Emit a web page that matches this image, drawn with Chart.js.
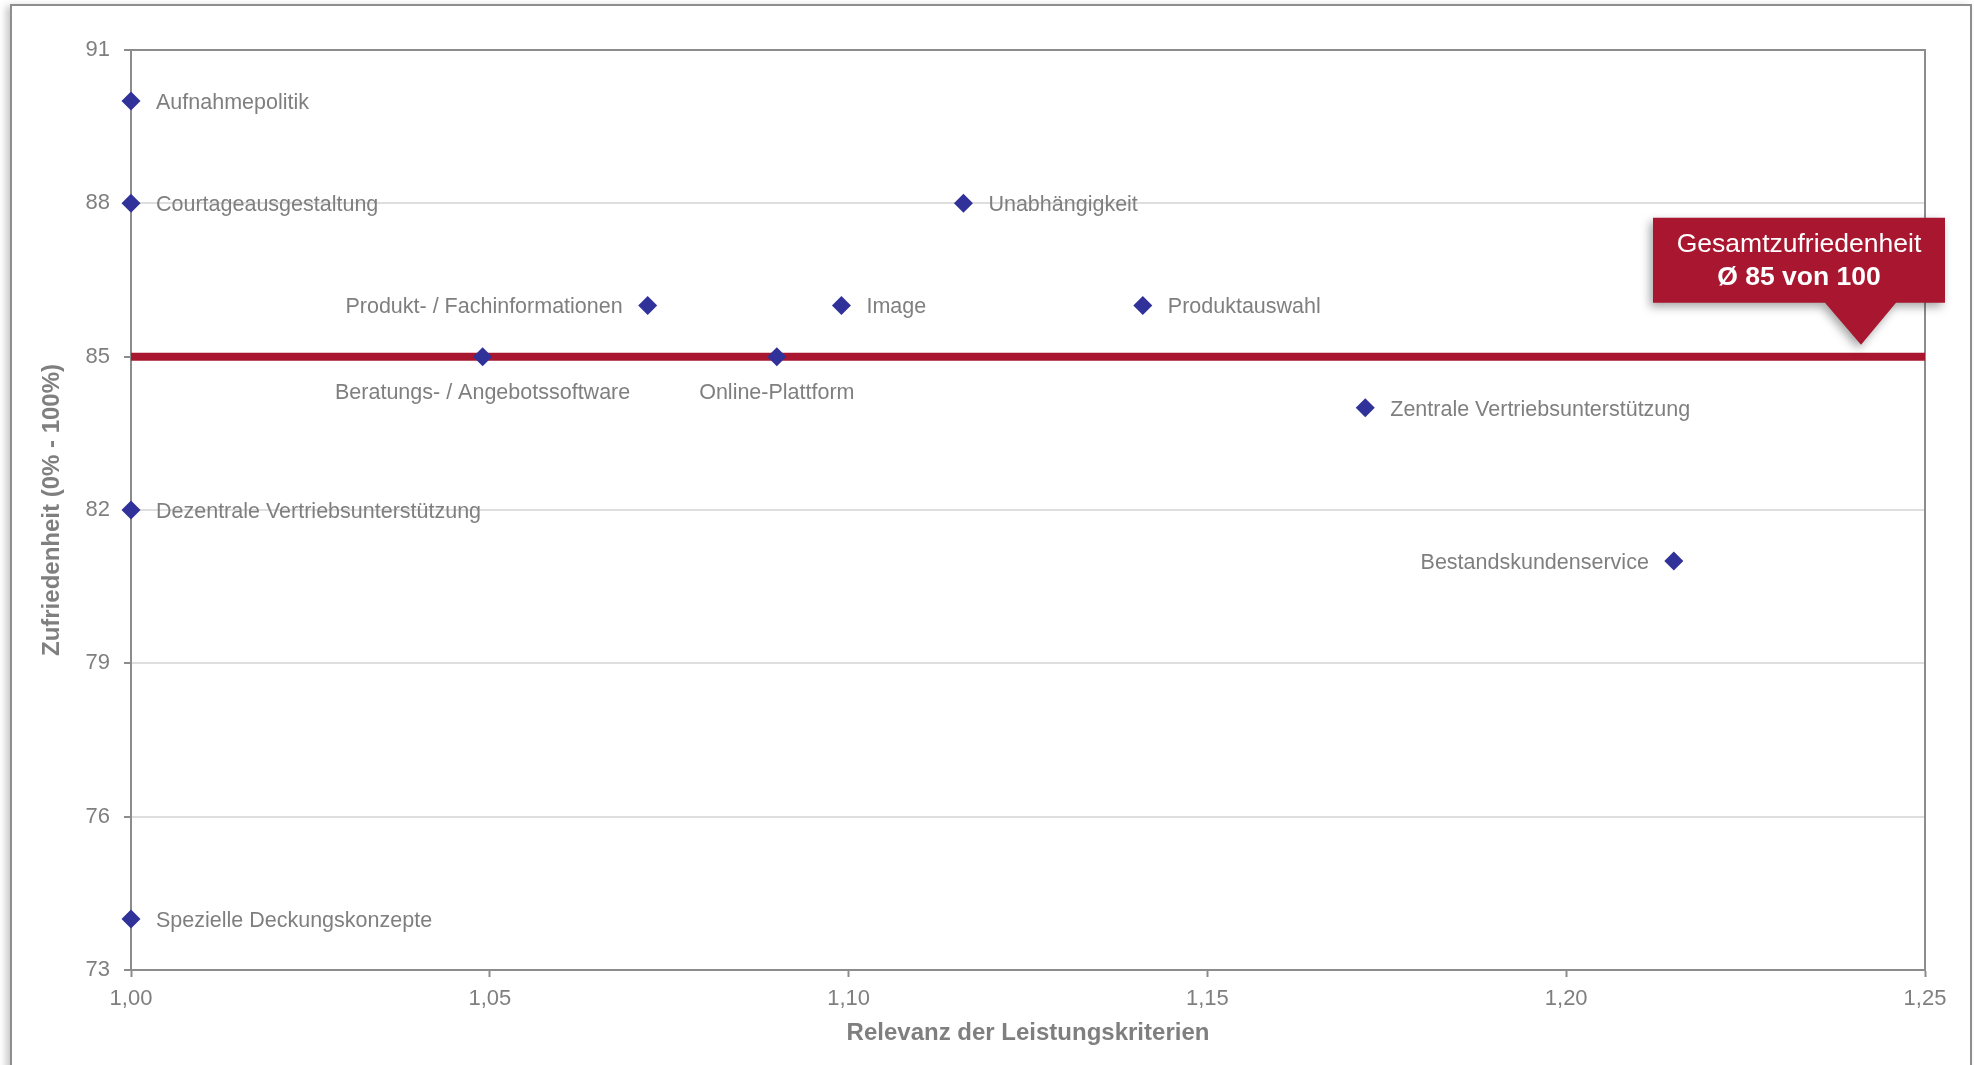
<!DOCTYPE html>
<html>
<head>
<meta charset="utf-8">
<title>Zufriedenheit vs. Relevanz</title>
<script src="https://cdn.jsdelivr.net/npm/chart.js@4.4.1/dist/chart.umd.min.js"></script>
<style>
	html, body { margin: 0; padding: 0; background: #fff; overflow: hidden; }
	#frame {
		position: absolute; left: 10px; top: 4px; width: 1958px; height: 1100px;
		border: 2px solid #8e8e8e; background: #fff;
		box-shadow: -4px 2px 7px rgba(0, 0, 0, 0.22);
	}
	#wrap { position: absolute; left: 0; top: 0; width: 1974px; height: 1065px; }
</style>
</head>
<body>
<div id="frame"></div>
<div id="wrap"><canvas id="chart" width="1974" height="1065"></canvas></div>
<script>
// Leistungskriterien
const criteria = [
	'Aufnahmepolitik',
	'Courtageausgestaltung',
	'Unabhängigkeit',
	'Produkt- / Fachinformationen',
	'Image',
	'Produktauswahl',
	'Beratungs- / Angebotssoftware',
	'Online-Plattform',
	'Zentrale Vertriebsunterstützung',
	'Dezentrale Vertriebsunterstützung',
	'Bestandskundenservice',
	'Spezielle Deckungskonzepte',
]
const relevance = [1.000, 1.000, 1.116, 1.072, 1.099, 1.141, 1.049, 1.090, 1.172, 1.000, 1.215, 1.000]
const satisfaction = [90, 88, 88, 86, 86, 86, 85, 85, 84, 82, 81, 74]
const averageScore = 85

const xTicks = [1.00, 1.05, 1.10, 1.15, 1.20, 1.25]
const yTicks = [73, 76, 79, 82, 85, 88, 91]
const xTitle = 'Relevanz der Leistungskriterien'
const yTitle = 'Zufriedenheit (0% - 100%)'
const calloutTitle = 'Gesamtzufriedenheit'

// where each label sits relative to its point
const labelSide = ['right', 'right', 'right', 'left', 'right', 'right', 'below', 'below', 'right', 'right', 'left', 'right']

const FONT = '"Liberation Sans", Arial, sans-serif'
const GRAY = '#7f7f7f'
const AXIS = '#8c8c8c'
const RED = '#a8172f'
const NAVY = '#30329a'

const plotFrame = {
	id: 'plotFrame',
	beforeDatasetsDraw(chart) {
		const {ctx, chartArea: a} = chart
		ctx.save()
		ctx.strokeStyle = AXIS
		ctx.lineWidth = 2
		ctx.beginPath()
		ctx.moveTo(a.left, a.top)
		ctx.lineTo(a.right, a.top)
		ctx.lineTo(a.right, a.bottom)
		ctx.stroke()
		ctx.restore()
	},
}

const pointLabels = {
	id: 'pointLabels',
	afterDatasetsDraw(chart) {
		const {ctx} = chart
		const meta = chart.getDatasetMeta(0)
		ctx.save()
		ctx.font = '21.5px ' + FONT
		ctx.fillStyle = GRAY
		ctx.textBaseline = 'middle'
		meta.data.forEach((pt, i) => {
			const side = labelSide[i]
			if (side === 'left') {
				ctx.textAlign = 'right'
				ctx.fillText(criteria[i], pt.x - 25, pt.y + 2)
			} else if (side === 'below') {
				ctx.textAlign = 'center'
				ctx.fillText(criteria[i], pt.x, pt.y + 36)
			} else {
				ctx.textAlign = 'left'
				ctx.fillText(criteria[i], pt.x + 25, pt.y + 2)
			}
		})
		ctx.restore()
	},
}

const callout = {
	id: 'callout',
	afterDraw(chart) {
		const {ctx, chartArea, scales} = chart
		const tipX = chartArea.right - 64
		const tipY = scales.y.getPixelForValue(averageScore) - 12
		const boxW = 292, boxH = 85
		const boxL = chartArea.right + 20 - boxW
		const boxT = tipY - 42 - boxH
		const boxB = boxT + boxH

		ctx.save()
		ctx.shadowColor = 'rgba(0, 0, 0, 0.35)'
		ctx.shadowBlur = 10
		ctx.shadowOffsetX = -3
		ctx.shadowOffsetY = 4
		ctx.fillStyle = RED
		ctx.beginPath()
		ctx.moveTo(boxL, boxT)
		ctx.lineTo(boxL + boxW, boxT)
		ctx.lineTo(boxL + boxW, boxB)
		ctx.lineTo(tipX + 35, boxB)
		ctx.lineTo(tipX, tipY)
		ctx.lineTo(tipX - 36, boxB)
		ctx.lineTo(boxL, boxB)
		ctx.closePath()
		ctx.fill()
		ctx.restore()

		ctx.save()
		const cx = boxL + boxW / 2
		ctx.fillStyle = '#fff'
		ctx.textAlign = 'center'
		ctx.textBaseline = 'middle'
		ctx.font = '26.5px ' + FONT
		ctx.fillText(calloutTitle, cx, boxT + 27)
		ctx.font = 'bold 26.5px ' + FONT
		ctx.fillText('Ø ' + averageScore + ' von 100', cx, boxT + 60)
		ctx.restore()
	},
}

const ctx = document.getElementById('chart')
new Chart(ctx, {
	type: 'scatter',
	data: {
		datasets: [
			{
				label: 'Kriterien',
				data: relevance.map((x, i) => ({x: x, y: satisfaction[i]})),
				pointStyle: 'rectRot',
				pointRadius: 9.5,
				pointHoverRadius: 9.5,
				backgroundColor: NAVY,
				borderWidth: 0,
				clip: false,
				order: 0,
			},
			{
				type: 'line',
				label: 'Gesamtzufriedenheit',
				data: [
					{x: xTicks[0], y: averageScore},
					{x: xTicks[xTicks.length - 1], y: averageScore},
				],
				borderColor: RED,
				borderWidth: 8,
				pointRadius: 0,
				fill: false,
				order: 1,
			},
		],
	},
	options: {
		responsive: false,
		devicePixelRatio: 1,
		animation: false,
		layout: {padding: {top: 50, right: 49, left: 0, bottom: 0}},
		plugins: {
			legend: {display: false},
			tooltip: {enabled: false},
		},
		scales: {
			x: {
				type: 'linear',
				min: xTicks[0],
				max: xTicks[xTicks.length - 1],
				afterBuildTicks: s => { s.ticks = xTicks.map(v => ({value: v})) },
				afterFit: s => { s.height = 95 },
				ticks: {
					font: {family: FONT, size: 22},
					color: GRAY,
					padding: 9,
					callback: v => Number(v).toFixed(2).replace('.', ','),
				},
				grid: {drawOnChartArea: false, tickLength: 7, tickColor: AXIS, tickWidth: 2},
				border: {color: AXIS, width: 2},
				title: {
					display: true,
					text: xTitle,
					color: GRAY,
					font: {family: FONT, size: 24, weight: 'bold'},
					padding: {top: 0, bottom: 17},
				},
			},
			y: {
				type: 'linear',
				min: yTicks[0],
				max: yTicks[yTicks.length - 1],
				afterBuildTicks: s => { s.ticks = yTicks.map(v => ({value: v})) },
				afterFit: s => { s.width = 131 },
				ticks: {
					font: {family: FONT, size: 22},
					color: GRAY,
					padding: 14,
				},
				grid: {color: '#dedede', lineWidth: 2, tickLength: 7, tickColor: AXIS, tickWidth: 2},
				border: {color: AXIS, width: 2},
				title: {
					display: true,
					text: yTitle,
					color: GRAY,
					font: {family: FONT, size: 24, weight: 'bold'},
					padding: {top: 38, bottom: 0},
				},
			},
		},
	},
	plugins: [plotFrame, pointLabels, callout],
})
</script>
</body>
</html>
